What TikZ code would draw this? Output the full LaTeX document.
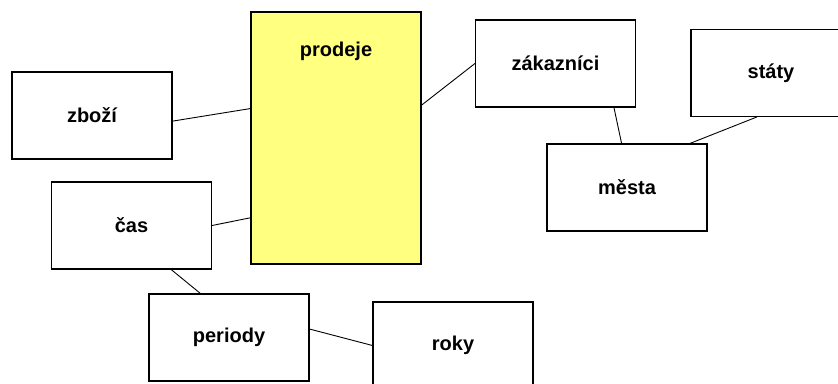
\documentclass[tikz,border=0pt]{standalone}
\usepackage{fontspec}
\setmainfont{Liberation Sans}
\definecolor{factyellow}{RGB}{255,255,128}
\tikzset{
	tab/.style={draw,line width=1.1pt,minimum width=160pt,minimum height=87pt,inner sep=0pt,font=\fontsize{20}{24}\selectfont\bfseries},
	fact/.style={tab,fill=factyellow,minimum width=170pt,minimum height=252pt},
	link/.style={line width=0.9pt}
}

\begin{document}
\begin{tikzpicture}[x=1pt,y=-1pt]
		\useasboundingbox (0,0) rectangle (838,383);
		\clip (0,0) rectangle (838,383);
		\node[fact,label={[anchor=center,yshift=-40pt,font=\fontsize{20}{24}\selectfont\bfseries]north:prodeje}] (prodeje) at(336,138) {};
		\node[tab] (zbozi) at(92,115.5) {zboží};
		\node[tab] (cas) at(131.5,225.5) {čas};
		\node[tab] (periody) at(229,337.5) {periody};
		\node[tab] (roky) at(453,345.5) {roky};
		\node[tab] (zakaznici) at(555.5,63.5) {zákazníci};
		\node[tab] (mesta) at(627,187.5) {města};
		\node[tab] (staty) at(771,73) {státy};
		
		\draw[link] (zbozi.-4) -- (prodeje.161);
		\draw[link] (cas.east) -- (prodeje.223);
		\draw[link] (prodeje.21) -- (zakaznici.west);
		\draw[link] (zakaznici.-37) -- (mesta.97);
		\draw[link] (mesta.35) -- (staty.252);
		\draw[link] (cas.-48.5) -- (periody.123);
		\draw[link] (periody.6) -- (roky.west);
		\end{tikzpicture}
\end{document}
